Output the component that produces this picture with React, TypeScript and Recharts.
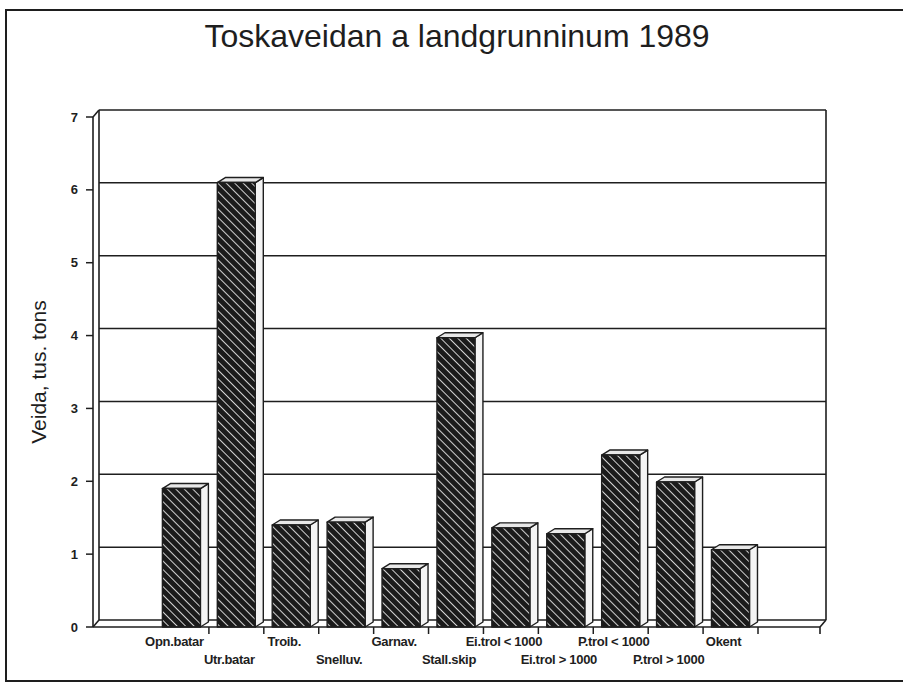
import React from "react";
import {
  Bar,
  BarChart,
  CartesianGrid,
  ReferenceArea,
  XAxis,
  YAxis,
} from "recharts";

const categories = [
  "Opn.batar",
  "Utr.batar",
  "Troib.",
  "Snelluv.",
  "Garnav.",
  "Stall.skip",
  "Ei.trol < 1000",
  "Ei.trol > 1000",
  "P.trol < 1000",
  "P.trol > 1000",
  "Okent",
];
const catchValues = [1.9, 6.1, 1.4, 1.44, 0.8, 3.97, 1.36, 1.28, 2.36, 1.99, 1.06];
const yTicks = [0, 1, 2, 3, 4, 5, 6, 7];

const data = categories.map((name, i) => ({ name, value: catchValues[i] }));

const INK = "#1e1e1e";
const FONT = "'Liberation Sans', Arial, sans-serif";
const PAD_L = 61;
const PAD_R = 62;
const DX = 6; // 3d depth
const DY = -7;
const BD = 8; // bar side depth
const BDY = -5;
const SHIFT = 4; // bars sit a bit right of slot centre

// back wall edges + floor joins
const Wall = (p: any) => {
  const left = p.x - PAD_L;
  const right = p.x + p.width + PAD_R;
  const top = p.y;
  const bot = p.y + p.height;
  return (
    <g stroke={INK} strokeWidth={1.6} fill="none">
      <line x1={left + DX} y1={top + DY} x2={left + DX} y2={bot + DY} />
      <line x1={right + DX} y1={top + DY} x2={right + DX} y2={bot + DY} />
      <line x1={left} y1={bot} x2={left + DX} y2={bot + DY} />
      <line x1={right} y1={bot} x2={right + DX} y2={bot + DY} />
      <line x1={left} y1={top} x2={left + DX} y2={top + DY} />
      <line x1={right} y1={bot} x2={right} y2={bot + 7} />
    </g>
  );
};

const gridLine = (p: any) => (
  <line
    key={p.key}
    x1={p.x1 + DX}
    y1={p.y1 + DY}
    x2={p.x2 + DX}
    y2={p.y2 + DY}
    stroke={INK}
    strokeWidth={1.5}
  />
);

const Bar3D = (p: any) => {
  const { y, width, height } = p;
  if (!height) return null;
  const x = p.x + SHIFT;
  const w = width - BD;
  const b = y + height;
  return (
    <g stroke={INK} strokeWidth={1.4} strokeLinejoin="round">
      <polygon
        points={`${x + w},${y} ${x + w + BD},${y + BDY} ${x + w + BD},${b + BDY} ${x + w},${b}`}
        fill="#f4f4f4"
      />
      <polygon
        points={`${x},${y} ${x + w},${y} ${x + w + BD},${y + BDY} ${x + BD},${y + BDY}`}
        fill="#e8e8e8"
      />
      <rect x={x} y={y} width={w} height={height} fill="url(#hatch)" />
    </g>
  );
};

const XTick = (p: any) => {
  const { x, y, payload, index } = p;
  const off = payload && payload.offset ? payload.offset : 27.45;
  const row = index % 2;
  return (
    <g>
      <line x1={x + off} y1={y} x2={x + off} y2={y + 7} stroke={INK} strokeWidth={1.5} />
      <text
        x={x - 7}
        y={y + 14 + row * 18}
        textAnchor="middle"
        dominantBaseline="central"
        fontFamily={FONT}
        fontWeight="bold"
        fontSize={13}
        letterSpacing={-0.3}
        fill={INK}
      >
        {payload.value}
      </text>
    </g>
  );
};

const YLabel = (p: any) => {
  const vb = p.viewBox || { x: 0, y: 117, width: 93, height: 510 };
  const cx = vb.x + 38;
  const cy = vb.y + vb.height / 2;
  return (
    <text
      x={cx}
      y={cy}
      transform={`rotate(-90 ${cx} ${cy})`}
      textAnchor="middle"
      dominantBaseline="central"
      fontFamily={FONT}
      fontSize={21}
      fill={INK}
    >
      Veida, tus. tons
    </text>
  );
};

export default function App() {
  return (
    <div
      style={{
        position: "absolute",
        left: 0,
        top: 0,
        width: 903,
        height: 682,
        overflow: "hidden",
        background: "#fff",
      }}
    >
      <div
        style={{
          position: "absolute",
          left: 5,
          top: 9,
          width: 940,
          height: 669,
          border: `2px solid ${INK}`,
        }}
      />
      <div
        style={{
          position: "absolute",
          left: 0,
          top: 18,
          width: 914,
          textAlign: "center",
          fontFamily: FONT,
          fontSize: 32,
          color: INK,
        }}
      >
        Toskaveidan a landgrunninum 1989
      </div>
      <div style={{ position: "absolute", left: 0, top: 0 }}>
        <BarChart
          width={903}
          height={682}
          data={data}
          margin={{ top: 117, right: 83, left: 0, bottom: 0 }}
          barCategoryGap="8%"
        >
          <defs>
            <pattern
              id="hatch"
              patternUnits="userSpaceOnUse"
              width={6}
              height={6}
              patternTransform="rotate(-45)"
            >
              <rect width={6} height={6} fill="#1b1b1b" />
              <line x1={0} y1={0} x2={0} y2={6} stroke="#ffffff" strokeWidth={1.6} />
            </pattern>
          </defs>
          <CartesianGrid vertical={false} horizontal={gridLine} />
          <ReferenceArea y1={0} y2={7} shape={Wall} />
          <XAxis
            dataKey="name"
            height={55}
            padding={{ left: PAD_L, right: PAD_R }}
            interval={0}
            tickLine={false}
            tickSize={0}
            tickMargin={0}
            axisLine={{ stroke: INK, strokeWidth: 1.6 }}
            tick={<XTick />}
          />
          <YAxis
            width={93}
            domain={[0, 7]}
            ticks={yTicks}
            interval={0}
            tickSize={7}
            tickMargin={8}
            tickLine={{ stroke: INK, strokeWidth: 1.5 }}
            axisLine={{ stroke: INK, strokeWidth: 1.6 }}
            tick={{ fill: INK, fontFamily: FONT, fontWeight: "bold", fontSize: 13 }}
            label={<YLabel />}
          />
          <Bar dataKey="value" shape={<Bar3D />} isAnimationActive={false} />
        </BarChart>
      </div>
    </div>
  );
}
